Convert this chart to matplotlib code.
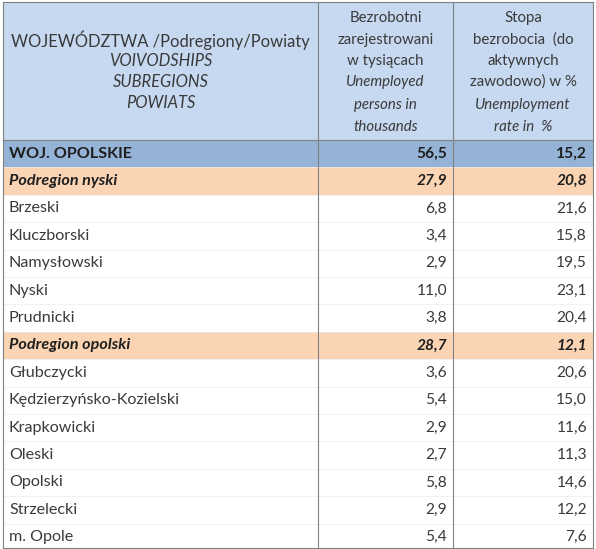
import matplotlib
matplotlib.use("Agg")
import matplotlib.pyplot as plt
from matplotlib.patches import Rectangle

names = ["WOJ. OPOLSKIE", "Podregion nyski", "Brzeski", "Kluczborski", "Namysłowski", "Nyski",
         "Prudnicki", "Podregion opolski", "Głubczycki", "Kędzierzyńsko-Kozielski", "Krapkowicki",
         "Oleski", "Opolski", "Strzelecki", "m. Opole"]
unemployed = ["56,5", "27,9", "6,8", "3,4", "2,9", "11,0", "3,8", "28,7", "3,6", "5,4", "2,9",
              "2,7", "5,8", "2,9", "5,4"]
rate = ["15,2", "20,8", "21,6", "15,8", "19,5", "23,1", "20,4", "12,1", "20,6", "15,0", "11,6",
        "11,3", "14,6", "12,2", "7,6"]
kinds = ["voiv", "sub", "p", "p", "p", "p", "p", "sub", "p", "p", "p", "p", "p", "p", "p"]

hdr1 = [("WOJEWÓDZTWA /Podregiony/Powiaty", "normal"), ("VOIVODSHIPS", "italic"),
        ("SUBREGIONS", "italic"), ("POWIATS", "italic")]
hdr2 = [("Bezrobotni", "normal"), ("zarejestrowani", "normal"), ("w tysiącach", "normal"),
        ("Unemployed", "italic"), ("persons in", "italic"), ("thousands", "italic")]
hdr3 = [("Stopa", "normal"), ("bezrobocia  (do", "normal"), ("aktywnych", "normal"),
        ("zawodowo) w %", "normal"), ("Unemployment", "italic"), ("rate in  %", "italic")]

plt.rcParams['font.family'] = ['Lato', 'DejaVu Sans']
fig = plt.figure(figsize=(5.96, 5.49), dpi=100)
ax = fig.add_axes([0, 0, 1, 1])
ax.set_xlim(0, 596); ax.set_ylim(549, 0); ax.axis('off')

tc = '#3a3a3a'
xL, x1, x2, xR = 3, 318, 453, 593
htop, hbot, rh = 2, 140, 27.4
fs = 10.8
fsn = 11.6

ax.add_patch(Rectangle((xL, htop), xR - xL, hbot - htop, fc='#c6d9f1', ec='none'))
for i, (lab, kind) in enumerate(hdr1):
    ax.text((xL + x1) / 2, [40, 61, 82, 103][i], lab, ha='center', va='center', fontsize=11.9, style=kind, color=tc)
ys = [18, 40, 61, 82, 105, 127]
for i, (lab, kind) in enumerate(hdr2):
    ax.text((x1 + x2) / 2, ys[i], lab, ha='center', va='center', fontsize=fs, style=kind, color=tc)
for i, (lab, kind) in enumerate(hdr3):
    ax.text((x2 + xR) / 2, ys[i], lab, ha='center', va='center', fontsize=fs, style=kind, color=tc)

for i, (n, u, r, k) in enumerate(zip(names, unemployed, rate, kinds)):
    top = hbot + i * rh
    yc = top + rh / 2
    kw = dict(color=tc, va='center')
    if k == 'voiv':
        ax.add_patch(Rectangle((xL, top), xR - xL, rh, fc='#95b3d7', ec='none'))
        kw.update(fontweight='bold', color='#1f1f1f')
    elif k == 'sub':
        ax.add_patch(Rectangle((xL, top), xR - xL, rh, fc='#fbd4b4', ec='none'))
        kw.update(fontweight='bold', style='italic', color='#1f1f1f')
    ax.text(xL + 6, yc, n, ha='left', fontsize=fsn, **kw)
    ax.text(x2 - 6, yc, u, ha='right', fontsize=11.2, **kw)
    ax.text(xR - 6, yc, r, ha='right', fontsize=11.2, **kw)
    if i > 0:
        ax.plot([xL, xR], [top, top], color='#ececec', lw=0.5)

ax.plot([xL, xR], [hbot, hbot], color='#808080', lw=0.8)
for x in (xL, x1, x2, xR):
    ax.plot([x, x], [htop, 549], color='#808080', lw=0.8)
ax.plot([xL, xR], [htop, htop], color='#808080', lw=0.8)
ax.plot([xL, xR], [548, 548], color='#808080', lw=0.8)

fig.savefig('out.png', dpi=100)
